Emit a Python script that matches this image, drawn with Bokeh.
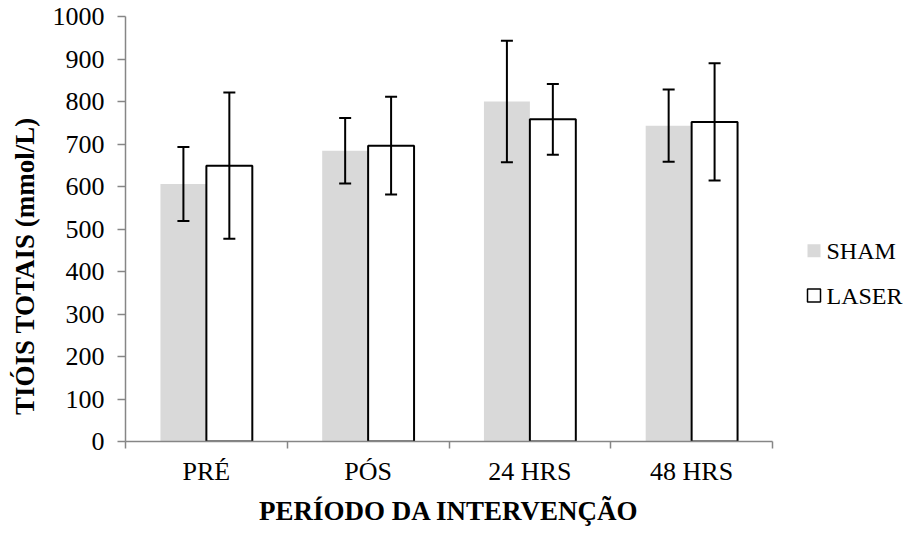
from bokeh.plotting import figure
from bokeh.layouts import row
from bokeh.core.properties import value
from bokeh.models import (ColumnDataSource, FixedTicker, Range1d, Whisker, TeeHead)
from bokeh.embed import file_html
from bokeh.resources import INLINE

categories = ["PRÉ", "PÓS", "24 HRS", "48 HRS"]
sham = [606, 684, 800, 743]
sham_err = [87, 77, 143, 85]
laser = [649, 696, 758, 752]
laser_err = [172, 115, 83, 138]
y_ticks = list(range(0, 1001, 100))
series_names = ["SHAM", "LASER"]

FONT = "Liberation Serif"
AXIS_COLOR = "#868686"
SHAM_COLOR = "#d9d9d9"
offset = 0.142
bw = 0.284
TOP, BOTTOM = 16, 84
H = 528

xc = [i + 0.5 for i in range(len(categories))]
src_s = ColumnDataSource(dict(
    x=[c - offset for c in xc], top=sham,
    upper=[v + e for v, e in zip(sham, sham_err)],
    lower=[v - e for v, e in zip(sham, sham_err)]))
src_l = ColumnDataSource(dict(
    x=[c + offset for c in xc], top=laser,
    upper=[v + e for v, e in zip(laser, laser_err)],
    lower=[v - e for v, e in zip(laser, laser_err)]))

p = figure(width=774, height=H, output_backend="svg", toolbar_location=None,
           x_range=Range1d(0, 4), y_range=Range1d(0, 1000),
           min_border_left=125, min_border_right=2, min_border_top=TOP,
           min_border_bottom=BOTTOM)
p.outline_line_color = None
p.xgrid.grid_line_color = None
p.ygrid.grid_line_color = None

p.vbar(x="x", top="top", bottom=0, width=bw, source=src_s,
       fill_color=SHAM_COLOR, line_color=None)
p.vbar(x="x", top="top", bottom=0, width=bw, source=src_l,
       fill_color="white", line_color="black", line_width=2)

for src in (src_s, src_l):
    w = Whisker(base="x", upper="upper", lower="lower", source=src,
                line_color="black", line_width=2, level="overlay",
                upper_head=TeeHead(size=12, line_color="black", line_width=2),
                lower_head=TeeHead(size=12, line_color="black", line_width=2))
    p.add_layout(w)

# x axis
p.xaxis.ticker = FixedTicker(ticks=xc, minor_ticks=[0, 1, 2, 3, 4])
p.xaxis.major_label_overrides = {c: n for c, n in zip(xc, categories)}
p.xaxis.major_tick_line_color = None
p.xaxis.major_tick_out = 0
p.xaxis.minor_tick_out = 7
p.xaxis.minor_tick_in = 0
p.xaxis.minor_tick_line_color = AXIS_COLOR
p.xaxis.minor_tick_line_width = 1.5
p.xaxis.axis_label = "PERÍODO DA INTERVENÇÃO"
p.xaxis.major_label_standoff = 8

# y axis
p.yaxis.ticker = FixedTicker(ticks=y_ticks, minor_ticks=[])
p.yaxis.major_tick_out = 8
p.yaxis.major_tick_in = 0
p.yaxis.major_tick_line_color = AXIS_COLOR
p.yaxis.major_tick_line_width = 1.5
p.yaxis.axis_label = "TIÓIS TOTAIS (mmol/L)" + "\u00a0" * 11
p.yaxis.major_label_standoff = 13

for ax in (p.xaxis, p.yaxis):
    ax.axis_line_color = AXIS_COLOR
    ax.axis_line_width = 1.5
    ax.major_label_text_font = FONT
    ax.major_label_text_font_size = "26px"
    ax.major_label_text_color = "black"
    ax.axis_label_text_font = FONT
    ax.axis_label_text_font_size = "27px"
    ax.axis_label_text_font_style = "bold"
    ax.axis_label_text_color = "black"
p.xaxis.axis_label_standoff = 7
p.yaxis.axis_label_standoff = 10

# legend panel; its frame is aligned with the main frame, so map its
# y range to the main frame's pixel rows (y grows downward)
lg = figure(width=130, height=H, output_backend="svg", toolbar_location=None,
            x_axis_type=None, y_axis_type=None, min_border=0,
            x_range=Range1d(0, 130), y_range=Range1d(H - BOTTOM, TOP))
lg.outline_line_color = None
lg.xgrid.grid_line_color = None
lg.ygrid.grid_line_color = None
leg_y = [252, 297]
lg.rect(x=[39.5, 39.5], y=leg_y, width=13, height=13,
        width_units="screen", height_units="screen",
        fill_color=[SHAM_COLOR, "white"], line_color=[None, "black"],
        line_width=1.5)
lg.text(x=[52, 52], y=leg_y, text=series_names,
        text_font=value(FONT), text_font_size="24px", text_color="black",
        text_baseline="middle", text_align="left")

layout = row(p, lg, spacing=0)
open("out.html", "w").write(file_html(layout, INLINE))
